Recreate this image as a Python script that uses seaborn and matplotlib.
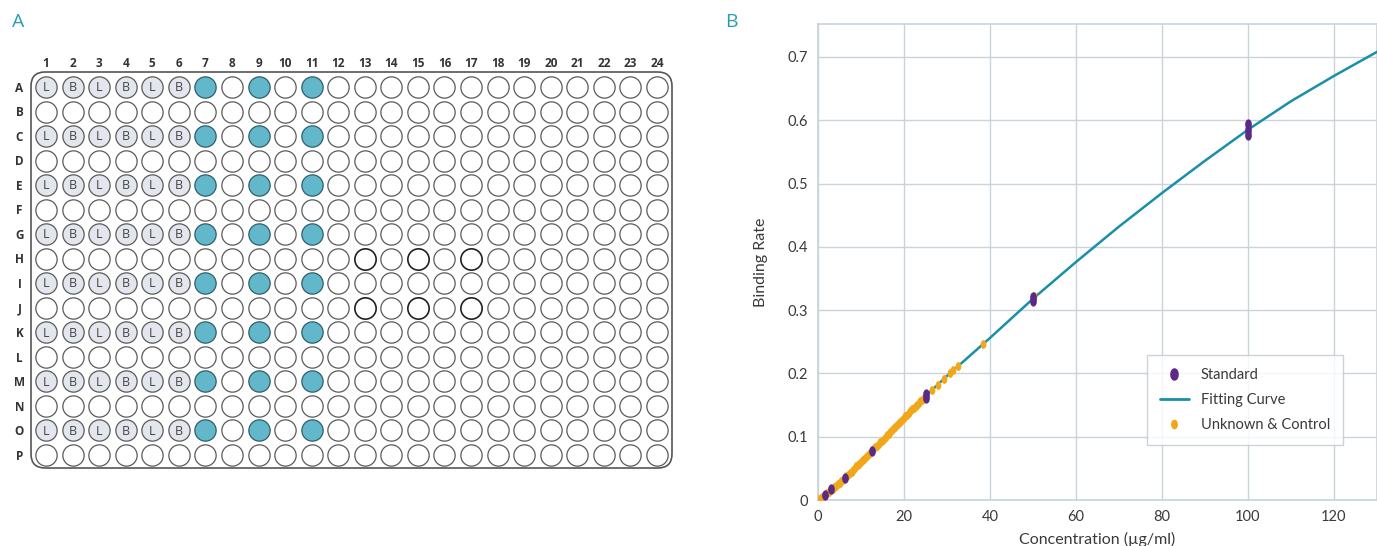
import numpy as np
import pandas as pd
import matplotlib
matplotlib.use("Agg")
import matplotlib.pyplot as plt
from matplotlib.patches import FancyBboxPatch
from matplotlib.lines import Line2D
import seaborn as sns

# plate layout (panel A)
plate_rows = list("ABCDEFGHIJKLMNOP")
plate_cols = list(range(1, 25))
sample_rows = list("ACEGIKMO")
ladder_cols = [1, 2, 3, 4, 5, 6]
ladder_labels = ["L", "B", "L", "B", "L", "B"]
teal_cols = [7, 9, 11]
outlined_rows = ["H", "J"]
outlined_cols = [13, 15, 17]

# standard curve (panel B)
curve_conc = [0, 5, 10, 15, 20, 25, 30, 40, 50, 60, 70, 80, 90, 100, 110, 120, 130]
curve_rate = [0, 0.027, 0.060, 0.095, 0.130, 0.164, 0.196, 0.256, 0.318, 0.376,
              0.432, 0.485, 0.536, 0.585, 0.630, 0.670, 0.708]
std_conc = [1.5625, 3.125, 6.25, 12.5, 25, 25, 50, 50, 100, 100, 100]
std_rate = [0.008, 0.017, 0.035, 0.077, 0.161, 0.167, 0.315, 0.321, 0.576, 0.585, 0.594]
unk_conc = [0.3, 0.6, 1.0, 1.4, 1.8, 2.1, 2.5, 3.0, 3.4, 3.8, 4.2, 4.6, 5.0, 5.4,
            5.8, 6.2, 6.6, 7.0, 7.4, 7.8, 8.1, 8.5, 8.9, 9.3, 9.6, 10.0, 10.4, 10.8,
            11.2, 11.6, 12.0, 12.5, 12.9, 13.3, 13.7, 14.1, 14.5, 14.9, 15.3, 15.7,
            16.0, 16.4, 16.8, 17.2, 17.6, 18.0, 18.4, 18.8, 19.1, 19.5, 19.9, 20.3,
            20.7, 21.1, 21.5, 21.9, 22.3, 22.7, 23.0, 23.4, 23.8, 24.2, 24.6, 25.2,
            26.5, 27.8, 29.3, 30.7, 31.4, 32.5, 38.4, 50.3]
unk_rate = [0.0015, 0.003, 0.005, 0.007, 0.009, 0.011, 0.013, 0.016, 0.018, 0.020,
            0.022, 0.025, 0.027, 0.030, 0.032, 0.035, 0.038, 0.040, 0.043, 0.045,
            0.047, 0.050, 0.053, 0.055, 0.057, 0.060, 0.063, 0.065, 0.068, 0.071,
            0.074, 0.077, 0.080, 0.083, 0.086, 0.088, 0.091, 0.094, 0.097, 0.099,
            0.102, 0.105, 0.108, 0.110, 0.113, 0.116, 0.119, 0.121, 0.124, 0.126,
            0.129, 0.132, 0.135, 0.137, 0.140, 0.143, 0.146, 0.148, 0.150, 0.153,
            0.156, 0.158, 0.161, 0.165, 0.173, 0.182, 0.191, 0.200, 0.205, 0.211,
            0.247, 0.322]

TEAL = "#63b7cb"
LADDER = "#e3e6ec"
PURPLE = "#5b2a86"
ORANGE = "#f2a71b"
CURVE = "#1a8fa8"
GRID = "#c9d3dc"
TXT = "#3a3a3a"

sns.set_theme(style="white")
plt.rcParams["font.family"] = ["Lato", "DejaVu Sans"]

fig = plt.figure(figsize=(13.77, 5.46), dpi=100)

# ---------------- panel A: plate ----------------
axa = fig.add_axes([31 / 1377, 78 / 546, 641 / 1377, 396 / 546])
axa.set_xlim(0.435, 24.565)
axa.set_ylim(15.53, -0.611)
axa.axis("off")

wells = []
for ri, r in enumerate(plate_rows):
    for c in plate_cols:
        kind = "empty"
        if r in sample_rows and c in ladder_cols:
            kind = "ladder"
        elif r in sample_rows and c in teal_cols:
            kind = "teal"
        elif r in outlined_rows and c in outlined_cols:
            kind = "outlined"
        wells.append({"col": c, "row": ri, "name": r, "kind": kind})
wells = pd.DataFrame(wells)

styles = {
    "empty": dict(color="white", edgecolor="#5a5a5a", linewidth=0.9),
    "ladder": dict(color=LADDER, edgecolor="#5a5a5a", linewidth=0.9),
    "teal": dict(color=TEAL, edgecolor="#2f5f6b", linewidth=0.9),
    "outlined": dict(color="white", edgecolor="#222222", linewidth=1.2),
}
for kind, st in styles.items():
    sub = wells[wells["kind"] == kind]
    sns.scatterplot(data=sub, x="col", y="row", s=235, ax=axa, legend=False,
                    zorder=3, clip_on=False, **st)

for _, w in wells[wells["kind"] == "ladder"].iterrows():
    axa.text(w["col"], w["row"] + 0.03, ladder_labels[ladder_cols.index(w["col"])],
             ha="center", va="center", fontsize=9, color="#444444",
             family=["Open Sans", "DejaVu Sans"], zorder=4)

plate = FancyBboxPatch((0, 0), 1, 1, boxstyle="round,pad=0,rounding_size=0.022",
                       transform=axa.transAxes, facecolor="white",
                       edgecolor="#555555", linewidth=1.2, zorder=1, clip_on=False,
                       mutation_aspect=641 / 396)
axa.add_patch(plate)

for c in plate_cols:
    axa.text(c, -0.95, str(c), ha="center", va="center", fontsize=8.5,
             fontweight="bold", color="#333333", family=["Open Sans", "DejaVu Sans"])
for ri, r in enumerate(plate_rows):
    axa.text(-0.0, ri + 0.05, r, ha="center", va="center", fontsize=8.5,
             fontweight="bold", color="#333333", family=["Open Sans", "DejaVu Sans"])

fig.text(18 / 1377, 1 - 22 / 546, "A", fontsize=14, color="#2a9db5",
         ha="center", va="center", family=["Open Sans", "DejaVu Sans"])
fig.text(731 / 1377, 1 - 22 / 546, "B", fontsize=14, color="#2a9db5",
         ha="center", va="center", family=["Open Sans", "DejaVu Sans"])

# ---------------- panel B: standard curve ----------------
axb = fig.add_axes([818 / 1377, 46 / 546, 559 / 1377, 476 / 546])
sns.lineplot(x=curve_conc, y=curve_rate, ax=axb, color=CURVE, linewidth=1.8, zorder=3)
ell_tall = [(0.65 * np.cos(t), np.sin(t)) for t in np.linspace(0, 2 * np.pi, 30)]
sns.scatterplot(x=unk_conc, y=unk_rate, ax=axb, color=ORANGE, marker=ell_tall,
                s=40, linewidth=0, zorder=4)
sns.scatterplot(x=std_conc, y=std_rate, ax=axb, color=PURPLE, marker=ell_tall,
                s=55, linewidth=0, zorder=5)

axb.set_xlim(0, 130)
axb.set_ylim(0, 0.752)
axb.set_xticks([0, 20, 40, 60, 80, 100, 120])
axb.set_yticks([0, 0.1, 0.2, 0.3, 0.4, 0.5, 0.6, 0.7])
axb.set_yticklabels(["0", "0.1", "0.2", "0.3", "0.4", "0.5", "0.6", "0.7"])
axb.grid(True, color=GRID, linewidth=1)
axb.set_axisbelow(True)
for sp in axb.spines.values():
    sp.set_color(GRID)
    sp.set_linewidth(1.2)
axb.tick_params(axis="both", length=0, labelsize=10.5, labelcolor=TXT, pad=7)
axb.set_xlabel("Concentration (µg/ml)", fontsize=11.5, color=TXT, labelpad=6)
axb.set_ylabel("Binding Rate", fontsize=11.5, color=TXT, labelpad=14)

handles = [
    Line2D([], [], linestyle="none", marker=ell_tall, color=PURPLE, markersize=8),
    Line2D([], [], color=CURVE, linewidth=2),
    Line2D([], [], linestyle="none", marker=ell_tall, color=ORANGE, markersize=6),
]
leg = axb.legend(handles, ["Standard", "Fitting Curve", "Unknown & Control"],
                 loc="lower right", bbox_to_anchor=(0.952, 0.1), fontsize=10.5,
                 frameon=True, fancybox=False, edgecolor="#c0c8d0",
                 borderpad=0.9, labelspacing=0.75, handlelength=2.0)
leg.get_frame().set_linewidth(1)
for t in leg.get_texts():
    t.set_color(TXT)

fig.savefig("out.png", dpi=100)
